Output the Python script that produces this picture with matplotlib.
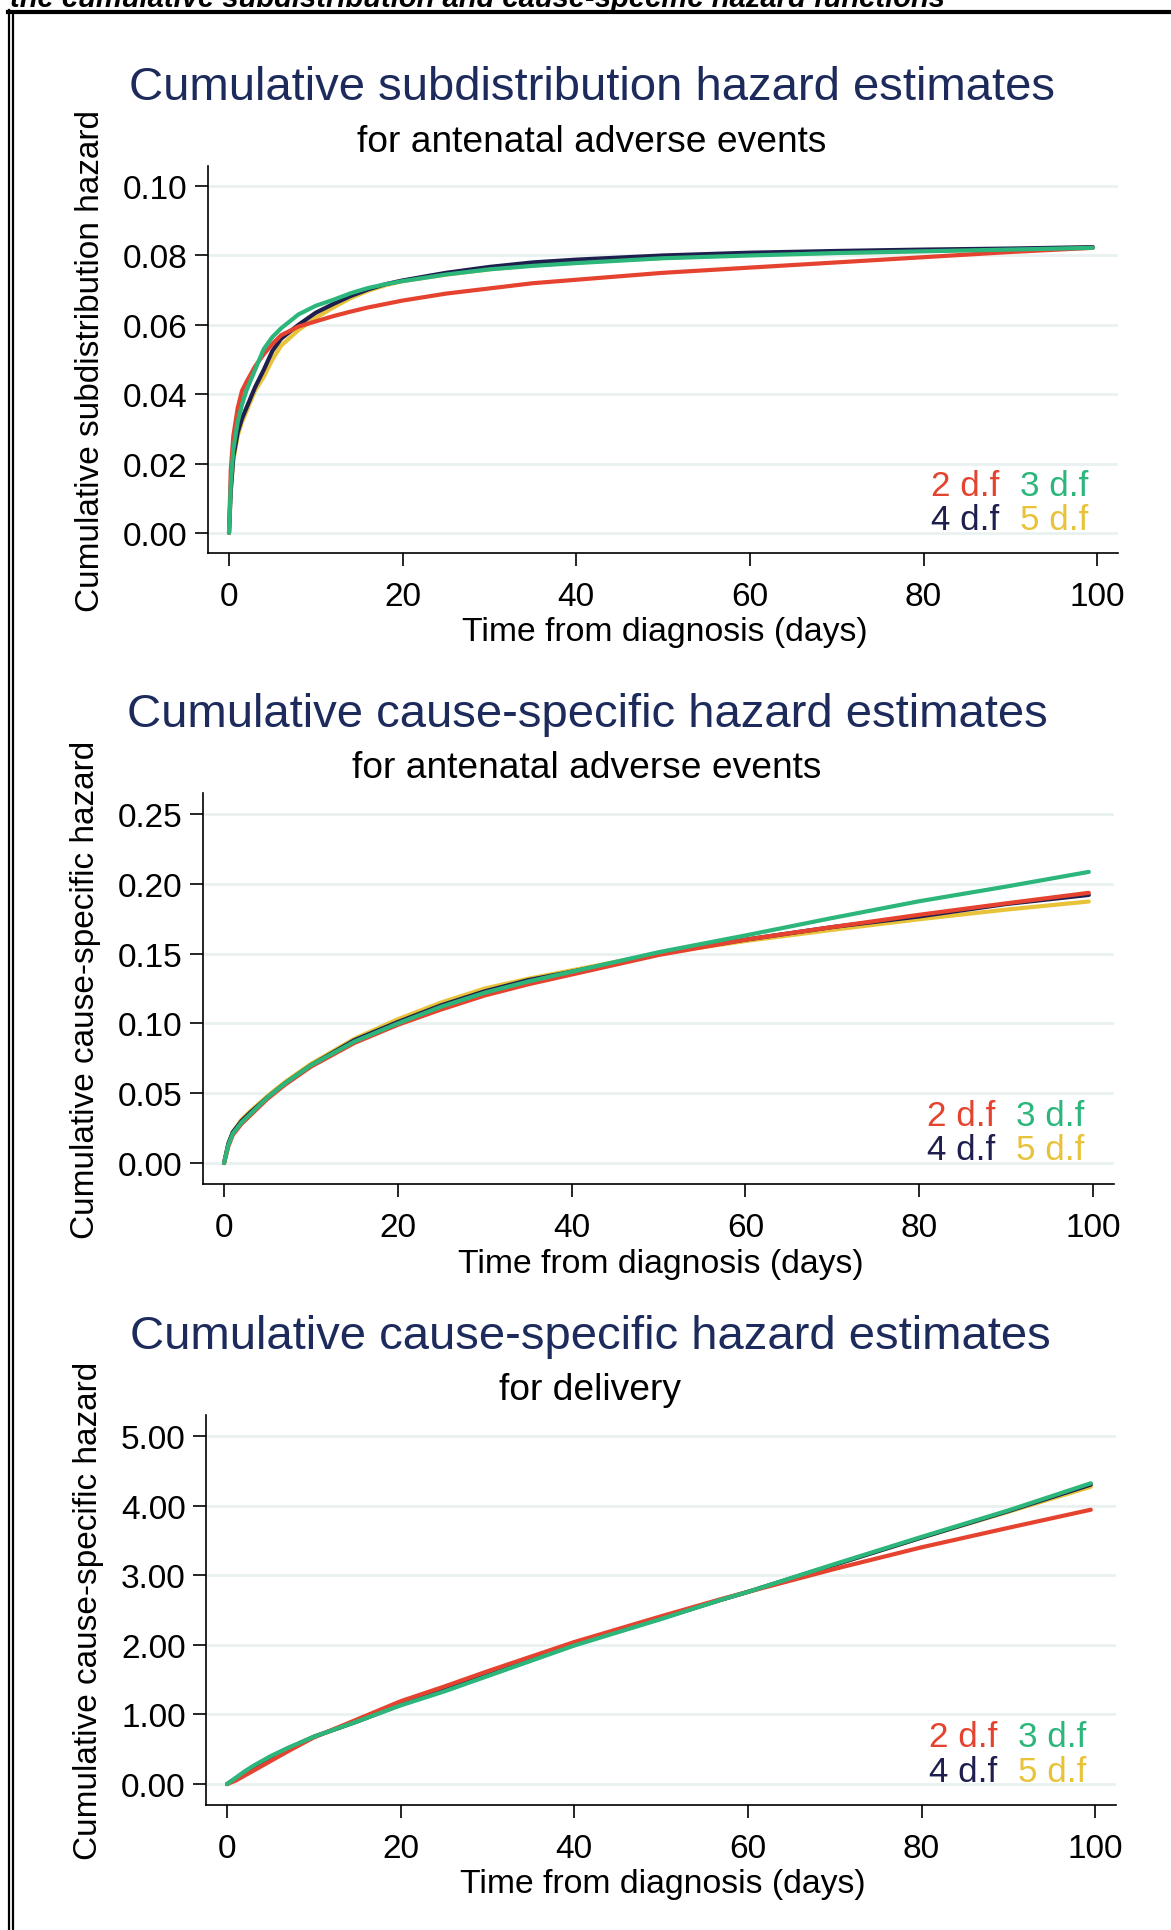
import matplotlib
matplotlib.use("Agg")
import matplotlib.pyplot as plt
from matplotlib.lines import Line2D
from matplotlib.ticker import FormatStrFormatter

plt.rcParams['font.family'] = ['Liberation Sans', 'DejaVu Sans']

W, H = 1171, 1931

# ---- data -------------------------------------------------------------
series_names = ["2 d.f", "3 d.f", "4 d.f", "5 d.f"]
series_colors = {"2 d.f": "#e5432f", "3 d.f": "#2cb67b",
                 "4 d.f": "#1e1f4e", "5 d.f": "#e8c33a"}

# Cumulative subdistribution hazard, antenatal adverse events
t_sub = [0, 0.2, 0.5, 1, 1.5, 2, 3, 4, 5, 6, 8, 10, 12, 14, 16, 18, 20, 25,
         30, 35, 40, 50, 60, 70, 80, 90, 99.5]
sub_2df = [0, 0.018, 0.028, 0.036, 0.041, 0.0435, 0.048, 0.0515, 0.0545,
           0.057, 0.0595, 0.061, 0.0625, 0.0638, 0.065, 0.066, 0.067, 0.069,
           0.0705, 0.072, 0.073, 0.075, 0.0765, 0.078, 0.0795, 0.081, 0.0822]
sub_3df = [0, 0.014, 0.024, 0.032, 0.037, 0.041, 0.047, 0.053, 0.0565,
           0.059, 0.063, 0.0655, 0.0672, 0.0691, 0.0706, 0.0717, 0.0726,
           0.0745, 0.076, 0.077, 0.0778, 0.0792, 0.080, 0.0807, 0.0812,
           0.0817, 0.0822]
sub_4df = [0, 0.012, 0.022, 0.029, 0.033, 0.036, 0.042, 0.047, 0.0525,
           0.056, 0.060, 0.0635, 0.066, 0.0683, 0.0702, 0.0717, 0.0728,
           0.075, 0.0767, 0.078, 0.0788, 0.080, 0.0808, 0.0813, 0.0817,
           0.082, 0.0824]
sub_5df = [0, 0.012, 0.021, 0.028, 0.032, 0.035, 0.041, 0.045, 0.050,
           0.054, 0.0585, 0.062, 0.065, 0.0677, 0.0698, 0.0714, 0.0726,
           0.0745, 0.076, 0.0772, 0.078, 0.0793, 0.0802, 0.0808, 0.0813,
           0.0818, 0.0823]

# Cumulative cause-specific hazard, antenatal adverse events
t_cs_ae = [0, 0.5, 1, 2, 3, 5, 7, 10, 15, 20, 25, 30, 35, 40, 50, 60, 70,
           80, 90, 99.5]
cs_ae_2df = [0, 0.012, 0.020, 0.028, 0.034, 0.046, 0.056, 0.069, 0.086,
             0.099, 0.110, 0.120, 0.128, 0.135, 0.149, 0.160, 0.169, 0.1778,
             0.186, 0.1935]
cs_ae_3df = [0, 0.013, 0.021, 0.029, 0.035, 0.047, 0.057, 0.070, 0.087,
             0.100, 0.112, 0.122, 0.130, 0.137, 0.151, 0.163, 0.1755, 0.1875,
             0.198, 0.2085]
cs_ae_4df = [0, 0.014, 0.022, 0.030, 0.036, 0.047, 0.057, 0.070, 0.088,
             0.101, 0.113, 0.123, 0.131, 0.137, 0.150, 0.160, 0.169, 0.1766,
             0.1855, 0.192]
cs_ae_5df = [0, 0.014, 0.022, 0.031, 0.037, 0.048, 0.058, 0.071, 0.089,
             0.103, 0.115, 0.125, 0.132, 0.138, 0.150, 0.159, 0.167, 0.1746,
             0.1815, 0.1873]

# Cumulative cause-specific hazard, delivery
t_cs_del = [0, 1, 2, 3, 5, 7, 10, 15, 20, 25, 30, 40, 50, 57, 60, 70, 80,
            90, 99.5]
cs_del_2df = [0, 0.05, 0.12, 0.19, 0.33, 0.47, 0.67, 0.93, 1.19, 1.40, 1.62,
              2.04, 2.41, 2.66, 2.76, 3.09, 3.40, 3.68, 3.94]
cs_del_3df = [0, 0.09, 0.18, 0.26, 0.40, 0.52, 0.68, 0.90, 1.13, 1.33, 1.55,
              1.99, 2.37, 2.65, 2.76, 3.16, 3.55, 3.93, 4.32]
cs_del_4df = [0, 0.08, 0.17, 0.25, 0.39, 0.51, 0.68, 0.90, 1.14, 1.35, 1.56,
              2.00, 2.38, 2.65, 2.76, 3.15, 3.54, 3.92, 4.30]
cs_del_5df = [0, 0.08, 0.17, 0.25, 0.39, 0.51, 0.68, 0.90, 1.14, 1.35, 1.56,
              2.00, 2.38, 2.65, 2.76, 3.15, 3.54, 3.91, 4.27]

x_ticks = [0, 20, 40, 60, 80, 100]

panels = [
    dict(title="Cumulative subdistribution hazard estimates",
         subtitle="for antenatal adverse events",
         ylabel="Cumulative subdistribution hazard",
         t=t_sub,
         ys={"2 d.f": sub_2df, "3 d.f": sub_3df, "4 d.f": sub_4df, "5 d.f": sub_5df},
         yticks=[0.00, 0.02, 0.04, 0.06, 0.08, 0.10],
         ylim=(-0.0058, 0.1058),
         box=(208, 167, 1118, 554)),
    dict(title="Cumulative cause-specific hazard estimates",
         subtitle="for antenatal adverse events",
         ylabel="Cumulative cause-specific hazard",
         t=t_cs_ae,
         ys={"2 d.f": cs_ae_2df, "3 d.f": cs_ae_3df, "4 d.f": cs_ae_4df, "5 d.f": cs_ae_5df},
         yticks=[0.00, 0.05, 0.10, 0.15, 0.20, 0.25],
         ylim=(-0.015, 0.265),
         box=(203, 794, 1114, 1185)),
    dict(title="Cumulative cause-specific hazard estimates",
         subtitle="for delivery",
         ylabel="Cumulative cause-specific hazard",
         t=t_cs_del,
         ys={"2 d.f": cs_del_2df, "3 d.f": cs_del_3df, "4 d.f": cs_del_4df, "5 d.f": cs_del_5df},
         yticks=[0.0, 1.0, 2.0, 3.0, 4.0, 5.0],
         ylim=(-0.30, 5.30),
         box=(206, 1416, 1116, 1806)),
]

TITLE_COLOR = "#1c2b5c"
GRID_COLOR = "#e9f1f1"
FS = 24

fig = plt.figure(figsize=(W / 100, H / 100), dpi=100)
fig.patch.set_facecolor("white")


def fx(px):
    return px / W


def fy(py):
    return 1 - py / H


draw_order = ["5 d.f", "4 d.f", "2 d.f", "3 d.f"]

for p in panels:
    l, t, r, b = p["box"]
    ax = fig.add_axes([fx(l), fy(b), (r - l) / W, (b - t) / H])
    for name in draw_order:
        ax.plot(p["t"], p["ys"][name], color=series_colors[name], lw=3.0,
                solid_capstyle="round", solid_joinstyle="round")
    ax.set_xlim(-2.42, 102.4)
    ax.set_ylim(*p["ylim"])
    ax.set_xticks(x_ticks)
    ax.set_yticks(p["yticks"])
    ax.yaxis.set_major_formatter(FormatStrFormatter("%.2f"))
    ax.grid(axis="y", color=GRID_COLOR, lw=2.0)
    ax.set_axisbelow(True)
    for s in ("top", "right"):
        ax.spines[s].set_visible(False)
    for s in ("left", "bottom"):
        ax.spines[s].set_linewidth(1.2)
    ax.tick_params(axis="both", direction="out", length=9.5, width=1.2,
                   labelsize=FS, colors="black")
    ax.tick_params(axis="x", pad=10.5)
    ax.tick_params(axis="y", pad=5)

    # titles, centred over the whole graph area
    cx = l - 208 + 592
    fig.text(fx(cx), fy(t - 79), p["title"], fontsize=34, color=TITLE_COLOR,
             ha="center", va="center")
    fig.text(fx(cx), fy(t - 25), p["subtitle"], fontsize=26.7, color="black",
             ha="center", va="center")
    # axis titles
    fig.text(fx((l + r) / 2 + 2), fy(b + 79), "Time from diagnosis (days)",
             fontsize=24.3, ha="center", va="center")
    fig.text(fx(l - 117), fy((t + b) / 2), p["ylabel"], fontsize=FS,
             rotation=90, ha="center", va="center")

    # key: two columns, two rows
    key_pos = {"2 d.f": (0.795, 0.175), "3 d.f": (0.8925, 0.175),
               "4 d.f": (0.795, 0.087), "5 d.f": (0.8925, 0.087)}
    for name in series_names:
        kx, ky = key_pos[name]
        ax.text(kx, ky, name, transform=ax.transAxes, fontsize=25.2,
                color=series_colors[name], ha="left", va="center")

# page furniture: caption line running off the top, rule and double left border
fig.text(fx(10), fy(7), "the cumulative subdistribution and cause-specific hazard functions",
         fontsize=21, fontweight="bold", fontstyle="italic", color="black",
         ha="left", va="baseline")
fig.add_artist(Line2D([fx(8), fx(W)], [fy(13), fy(13)], color="black", lw=3.0,
                      transform=fig.transFigure))
fig.add_artist(Line2D([fx(8.5), fx(8.5)], [fy(11), fy(H)], color="black", lw=1.6,
                      transform=fig.transFigure))
fig.add_artist(Line2D([fx(12.5), fx(12.5)], [fy(13), fy(H)], color="black", lw=1.6,
                      transform=fig.transFigure))

fig.savefig("out.png", dpi=100, facecolor="white")
